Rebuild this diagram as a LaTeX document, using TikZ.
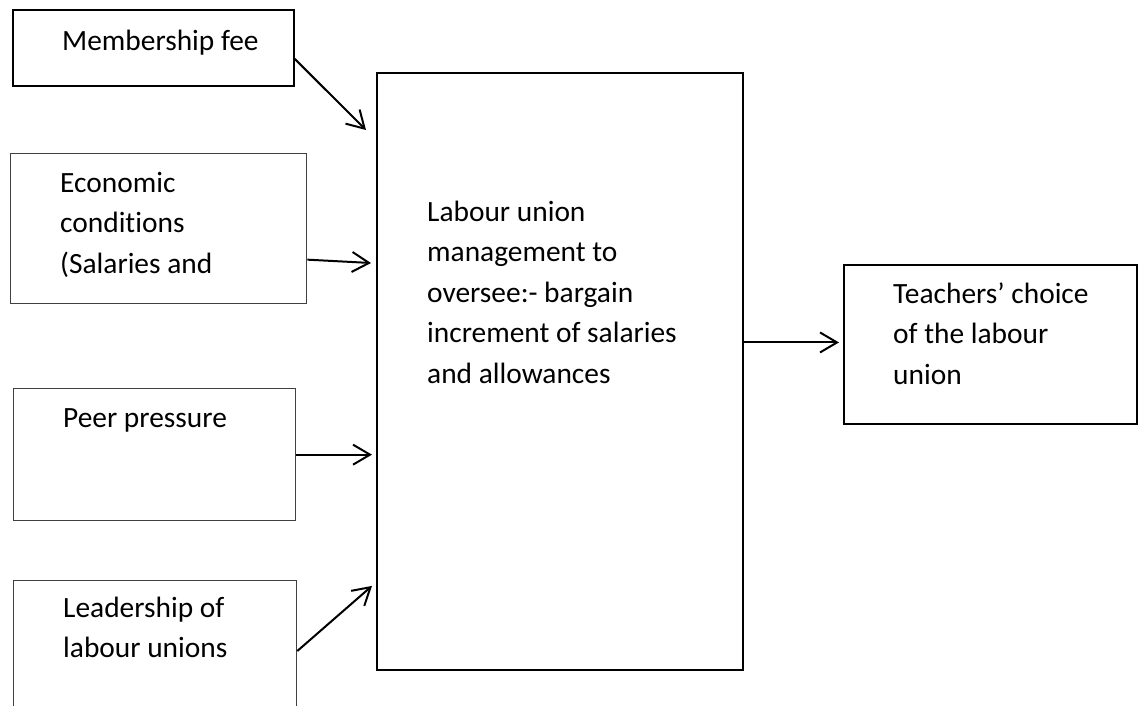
\documentclass[tikz,border=0pt]{standalone}
\usepackage{fontspec}
\setmainfont{Carlito}[Ligatures={NoCommon}]
\usetikzlibrary{arrows.meta}
\begin{document}
\begin{tikzpicture}[x=1pt,y=-1pt,
  box/.style={draw=black, line width=1.7pt, inner sep=0pt, anchor=north west},
  thinbox/.style={box, draw=black!75, line width=1.3pt},
  txt/.style={anchor=north west, inner sep=0pt, align=left, font=\fontsize{29.4}{40.5}\selectfont},
  arr/.style={line width=2pt, -{Straight Barb[length=17pt,width=20pt]}}]
\useasboundingbox (0,0) rectangle (1144,705);
\clip (0,0) rectangle (1144,705);
% boxes
\node[box, minimum width=281pt, minimum height=76pt] (fee) at (12,9) {};
\node[thinbox, minimum width=296pt, minimum height=150pt] (eco) at (10,153) {};
\node[thinbox, minimum width=282pt, minimum height=132pt] (peer) at (13,388) {};
\node[thinbox, minimum width=283pt, minimum height=200pt] (lead) at (13,580) {};
\node[box, line width=1.9pt, minimum width=366pt, minimum height=597pt] (center) at (376,72) {};
\node[box, line width=1.9pt, minimum width=293pt, minimum height=159pt] (choice) at (843,264) {};
% texts
\node[txt] (tfee) at (62,21.65) {\strut Membership fee};
\node[txt] (teco) at (60,163.65) {\strut Economic\\conditions\\(Salaries and};
\node[txt] (tpeer) at (63,398.65) {\strut Peer pressure};
\node[txt] (tlead) at (63,588.65) {\strut Leadership of\\labour unions};
\node[txt] (tcenter) at (427,192.65) {\strut Labour union\\management to\\oversee:- bargain\\increment of salaries\\and allowances};
\node[txt] (tchoice) at (893,274.65) {\strut Teachers’ choice\\of the labour\\union};
% connectors
\draw[arr] ([yshift=-11pt]fee.east) -- ([xshift=-10pt,yshift=-58pt]center.north west);
\draw[arr] ([yshift=-31pt]eco.east) -- ([xshift=-5pt,yshift=-191pt]center.north west);
\draw[arr] (peer.east) -- ([xshift=-4pt]center.west |- peer.east);
\draw[arr] ([yshift=-71pt]lead.north east) -- ([xshift=-4pt,yshift=85pt]center.south west);
\draw[arr] ([yshift=2pt]center.east |- choice.west) -- ([xshift=-4pt,yshift=2pt]choice.west);
\end{tikzpicture}
\end{document}
